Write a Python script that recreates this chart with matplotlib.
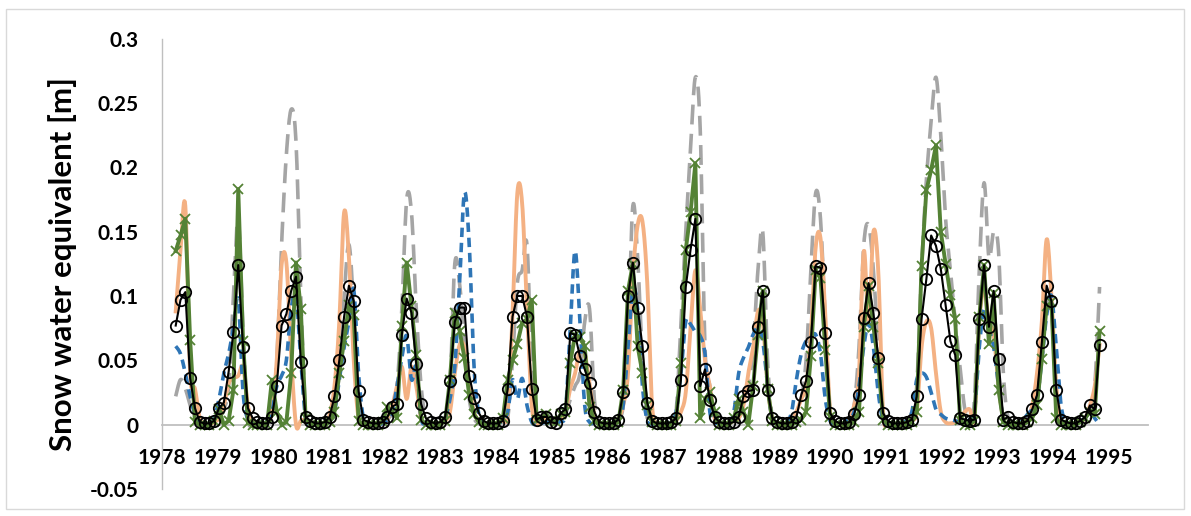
import numpy as np
import matplotlib
matplotlib.use("Agg")
import matplotlib.pyplot as plt
from matplotlib.patches import Rectangle

# ---------------- data ----------------
# sample positions (decimal years on the chart's x axis)
first_sample = 1978.246
sample_step = 0.08642
n_samples = 193

black_obs = [
    0.077, 0.097, 0.103, 0.036, 0.013, 0.002, 0.001, 0.001, 0.003, 0.013,
    0.017, 0.041, 0.072, 0.124, 0.060, 0.013, 0.005, 0.002, 0.001, 0.001,
    0.006, 0.030, 0.077, 0.086, 0.104, 0.115, 0.049, 0.006, 0.003, 0.001,
    0.001, 0.002, 0.006, 0.022, 0.050, 0.084, 0.108, 0.096, 0.026, 0.004,
    0.002, 0.001, 0.001, 0.002, 0.006, 0.014, 0.016, 0.070, 0.098, 0.087,
    0.047, 0.016, 0.005, 0.002, 0.001, 0.002, 0.006, 0.034, 0.080, 0.091,
    0.091, 0.038, 0.021, 0.009, 0.003, 0.001, 0.001, 0.001, 0.003, 0.028,
    0.084, 0.100, 0.100, 0.084, 0.028, 0.004, 0.006, 0.006, 0.002, 0.001,
    0.009, 0.012, 0.071, 0.070, 0.053, 0.043, 0.032, 0.010, 0.002, 0.001,
    0.001, 0.001, 0.004, 0.025, 0.100, 0.126, 0.091, 0.061, 0.017, 0.003,
    0.001, 0.001, 0.001, 0.002, 0.005, 0.035, 0.107, 0.136, 0.160, 0.030,
    0.043, 0.019, 0.006, 0.002, 0.001, 0.001, 0.002, 0.006, 0.022, 0.026,
    0.027, 0.076, 0.104, 0.027, 0.005, 0.002, 0.001, 0.001, 0.002, 0.006,
    0.023, 0.034, 0.064, 0.123, 0.122, 0.071, 0.009, 0.003, 0.001, 0.001,
    0.002, 0.008, 0.023, 0.083, 0.110, 0.087, 0.052, 0.009, 0.003, 0.001,
    0.001, 0.001, 0.002, 0.004, 0.022, 0.082, 0.113, 0.147, 0.139, 0.121,
    0.093, 0.065, 0.054, 0.005, 0.004, 0.003, 0.004, 0.082, 0.124, 0.076,
    0.104, 0.051, 0.004, 0.006, 0.002, 0.001, 0.001, 0.003, 0.012, 0.023,
    0.064, 0.108, 0.096, 0.027, 0.004, 0.002, 0.001, 0.001, 0.003, 0.006,
    0.015, 0.012, 0.062]

green_x = [
    0.135, 0.147, 0.160, 0.066, 0.002, 0.000, 0.000, 0.000, 0.003, 0.012,
    0.000, 0.003, 0.027, 0.183, 0.065, 0.001, 0.000, 0.000, 0.000, 0.000,
    0.035, 0.010, 0.000, 0.002, 0.040, 0.126, 0.090, 0.005, 0.000, 0.000,
    0.000, 0.000, 0.002, 0.010, 0.040, 0.065, 0.093, 0.085, 0.003, 0.000,
    0.000, 0.000, 0.000, 0.002, 0.014, 0.010, 0.005, 0.077, 0.126, 0.092,
    0.054, 0.004, 0.000, 0.000, 0.000, 0.000, 0.003, 0.035, 0.087, 0.073,
    0.052, 0.023, 0.008, 0.002, 0.000, 0.000, 0.000, 0.000, 0.005, 0.035,
    0.050, 0.063, 0.079, 0.082, 0.097, 0.004, 0.005, 0.008, 0.003, 0.002,
    0.008, 0.010, 0.048, 0.070, 0.068, 0.061, 0.014, 0.003, 0.000, 0.000,
    0.000, 0.000, 0.002, 0.027, 0.104, 0.125, 0.061, 0.040, 0.015, 0.002,
    0.000, 0.000, 0.000, 0.000, 0.003, 0.048, 0.136, 0.165, 0.203, 0.005,
    0.020, 0.025, 0.010, 0.000, 0.000, 0.000, 0.005, 0.020, 0.010, 0.000,
    0.030, 0.070, 0.104, 0.028, 0.003, 0.000, 0.000, 0.000, 0.000, 0.002,
    0.004, 0.010, 0.053, 0.120, 0.114, 0.058, 0.006, 0.000, 0.000, 0.000,
    0.000, 0.002, 0.010, 0.076, 0.108, 0.076, 0.048, 0.004, 0.000, 0.000,
    0.000, 0.000, 0.000, 0.002, 0.010, 0.123, 0.182, 0.198, 0.217, 0.150,
    0.125, 0.101, 0.082, 0.004, 0.000, 0.000, 0.003, 0.084, 0.124, 0.063,
    0.102, 0.027, 0.002, 0.000, 0.000, 0.000, 0.000, 0.002, 0.005, 0.015,
    0.051, 0.092, 0.095, 0.005, 0.000, 0.000, 0.000, 0.000, 0.002, 0.005,
    0.010, 0.008, 0.073]

orange_sim = [
    0.088, 0.135, 0.170, 0.040, 0.028, 0.005, 0.001, 0.000, 0.002, 0.005,
    0.015, 0.032, 0.036, 0.038, 0.045, 0.015, 0.002, 0.000, 0.000, 0.002,
    0.010, 0.050, 0.124, 0.126, 0.053, 0.000, 0.003, 0.004, 0.002, 0.001,
    0.001, 0.002, 0.008, 0.030, 0.080, 0.165, 0.130, 0.050, 0.005, 0.001,
    0.000, 0.000, 0.001, 0.002, 0.005, 0.015, 0.030, 0.045, 0.020, 0.045,
    0.030, 0.005, 0.001, 0.000, 0.000, 0.001, 0.003, 0.010, 0.040, 0.062,
    0.060, 0.030, 0.010, 0.003, 0.001, 0.000, 0.000, 0.001, 0.003, 0.010,
    0.085, 0.180, 0.172, 0.090, 0.015, 0.001, 0.003, 0.004, 0.002, 0.002,
    0.005, 0.010, 0.028, 0.040, 0.058, 0.055, 0.032, 0.008, 0.001, 0.000,
    0.000, 0.001, 0.005, 0.015, 0.040, 0.115, 0.155, 0.158, 0.110, 0.015,
    0.001, 0.000, 0.000, 0.001, 0.003, 0.010, 0.025, 0.075, 0.120, 0.090,
    0.050, 0.030, 0.005, 0.001, 0.000, 0.001, 0.003, 0.005, 0.015, 0.040,
    0.060, 0.088, 0.080, 0.030, 0.005, 0.001, 0.000, 0.001, 0.003, 0.010,
    0.020, 0.030, 0.070, 0.138, 0.145, 0.085, 0.010, 0.001, 0.000, 0.002,
    0.005, 0.015, 0.040, 0.135, 0.080, 0.150, 0.120, 0.010, 0.001, 0.000,
    0.000, 0.001, 0.002, 0.004, 0.010, 0.060, 0.080, 0.075, 0.040, 0.010,
    0.002, 0.001, 0.002, 0.005, 0.010, 0.012, 0.005, 0.080, 0.105, 0.080,
    0.070, 0.030, 0.005, 0.001, 0.000, 0.001, 0.002, 0.005, 0.015, 0.040,
    0.080, 0.144, 0.100, 0.030, 0.005, 0.001, 0.000, 0.001, 0.003, 0.005,
    0.015, 0.030, 0.062]

blue_sim = [
    0.061, 0.055, 0.040, 0.022, 0.008, 0.002, 0.001, 0.001, 0.005, 0.020,
    0.040, 0.055, 0.075, 0.097, 0.025, 0.004, 0.001, 0.000, 0.001, 0.003,
    0.010, 0.030, 0.038, 0.050, 0.090, 0.100, 0.050, 0.005, 0.001, 0.000,
    0.000, 0.001, 0.003, 0.010, 0.035, 0.060, 0.080, 0.105, 0.040, 0.005,
    0.001, 0.000, 0.000, 0.001, 0.004, 0.010, 0.030, 0.052, 0.069, 0.035,
    0.045, 0.005, 0.001, 0.000, 0.000, 0.001, 0.005, 0.020, 0.045, 0.110,
    0.180, 0.140, 0.045, 0.008, 0.001, 0.000, 0.000, 0.001, 0.003, 0.010,
    0.035, 0.020, 0.036, 0.015, 0.002, 0.000, 0.001, 0.002, 0.001, 0.001,
    0.003, 0.010, 0.075, 0.135, 0.080, 0.015, 0.002, 0.001, 0.000, 0.000,
    0.000, 0.001, 0.004, 0.015, 0.060, 0.105, 0.090, 0.030, 0.003, 0.001,
    0.000, 0.000, 0.001, 0.003, 0.010, 0.040, 0.080, 0.078, 0.072, 0.069,
    0.055, 0.010, 0.002, 0.001, 0.000, 0.001, 0.010, 0.040, 0.052, 0.060,
    0.070, 0.075, 0.065, 0.030, 0.004, 0.001, 0.000, 0.002, 0.010, 0.035,
    0.055, 0.065, 0.068, 0.070, 0.055, 0.020, 0.003, 0.001, 0.000, 0.002,
    0.005, 0.010, 0.030, 0.061, 0.079, 0.060, 0.025, 0.003, 0.001, 0.000,
    0.000, 0.001, 0.004, 0.010, 0.035, 0.040, 0.037, 0.025, 0.012, 0.008,
    0.005, 0.004, 0.003, 0.002, 0.002, 0.004, 0.010, 0.060, 0.090, 0.075,
    0.060, 0.030, 0.004, 0.001, 0.000, 0.001, 0.003, 0.008, 0.012, 0.020,
    0.050, 0.085, 0.100, 0.060, 0.015, 0.002, 0.000, 0.001, 0.003, 0.005,
    0.010, 0.005, 0.000]

gray_sim = [
    0.022, 0.035, 0.028, 0.015, 0.003, 0.001, 0.000, 0.000, 0.001, 0.005,
    0.012, 0.030, 0.100, 0.160, 0.070, 0.005, 0.001, 0.000, 0.000, 0.002,
    0.010, 0.050, 0.140, 0.210, 0.245, 0.220, 0.100, 0.010, 0.001, 0.000,
    0.000, 0.001, 0.004, 0.015, 0.040, 0.100, 0.140, 0.090, 0.020, 0.003,
    0.000, 0.000, 0.000, 0.001, 0.004, 0.010, 0.030, 0.090, 0.175, 0.165,
    0.090, 0.030, 0.005, 0.000, 0.000, 0.001, 0.004, 0.030, 0.125, 0.110,
    0.060, 0.020, 0.005, 0.001, 0.000, 0.000, 0.000, 0.001, 0.002, 0.005,
    0.050, 0.110, 0.120, 0.140, 0.040, 0.005, 0.005, 0.010, 0.005, 0.002,
    0.004, 0.008, 0.020, 0.030, 0.040, 0.080, 0.090, 0.020, 0.003, 0.000,
    0.000, 0.001, 0.004, 0.015, 0.070, 0.170, 0.130, 0.050, 0.005, 0.001,
    0.000, 0.000, 0.000, 0.001, 0.010, 0.080, 0.150, 0.215, 0.270, 0.230,
    0.060, 0.030, 0.005, 0.001, 0.000, 0.001, 0.004, 0.010, 0.020, 0.030,
    0.060, 0.120, 0.150, 0.050, 0.005, 0.001, 0.000, 0.001, 0.003, 0.010,
    0.020, 0.050, 0.120, 0.180, 0.160, 0.080, 0.010, 0.001, 0.000, 0.001,
    0.005, 0.015, 0.060, 0.140, 0.155, 0.120, 0.060, 0.010, 0.001, 0.000,
    0.000, 0.001, 0.003, 0.010, 0.030, 0.120, 0.190, 0.235, 0.270, 0.225,
    0.160, 0.120, 0.080, 0.045, 0.012, 0.003, 0.020, 0.120, 0.188, 0.130,
    0.150, 0.135, 0.040, 0.005, 0.001, 0.000, 0.001, 0.003, 0.010, 0.020,
    0.050, 0.095, 0.090, 0.020, 0.003, 0.001, 0.000, 0.001, 0.003, 0.005,
    0.010, 0.030, 0.107]

year_ticks = list(range(1978, 1996))
y_ticks = [-0.05, 0, 0.05, 0.1, 0.15, 0.2, 0.25, 0.3]
y_tick_labels = ["-0.05", "0", "0.05", "0.1", "0.15", "0.2", "0.25", "0.3"]
y_label = "Snow water equivalent [m]"


# ---------------- helpers ----------------
def smooth_curve(x, y, n=10):
    """Excel-like smoothed line (Catmull-Rom / Bezier through the points)."""
    x = np.asarray(x, float)
    y = np.asarray(y, float)
    px = np.concatenate([[x[0]], x, [x[-1]]])
    py = np.concatenate([[y[0]], y, [y[-1]]])
    t = np.linspace(0, 1, n, endpoint=False)
    xs, ys = [], []
    for i in range(len(x) - 1):
        x0, x1, x2, x3 = px[i], px[i + 1], px[i + 2], px[i + 3]
        y0, y1, y2, y3 = py[i], py[i + 1], py[i + 2], py[i + 3]
        cx1, cy1 = x1 + (x2 - x0) / 6, y1 + (y2 - y0) / 6
        cx2, cy2 = x2 - (x3 - x1) / 6, y2 - (y3 - y1) / 6
        a = (1 - t) ** 3
        b = 3 * (1 - t) ** 2 * t
        c = 3 * (1 - t) * t ** 2
        d = t ** 3
        xs.append(a * x1 + b * cx1 + c * cx2 + d * x2)
        ys.append(a * y1 + b * cy1 + c * cy2 + d * y2)
    xs.append([x[-1]])
    ys.append([y[-1]])
    return np.concatenate(xs), np.concatenate(ys)


# ---------------- figure ----------------
plt.rcParams['font.family'] = ['Lato', 'DejaVu Sans']

W, H = 1191, 516
fig = plt.figure(figsize=(W / 100, H / 100), dpi=100)
ax = fig.add_axes([162 / W, 1 - 489 / H, (1148 - 162) / W, (489 - 38.6) / H])

t = first_sample + sample_step * np.arange(n_samples)

xs, ys = smooth_curve(t, gray_sim)
ax.plot(xs, ys, color='#A5A5A5', lw=2.6, dashes=(5.5, 2.6), zorder=2)
xs, ys = smooth_curve(t, orange_sim)
ax.plot(xs, ys, color='#F4B183', lw=2.8, zorder=3)
xs, ys = smooth_curve(t, blue_sim)
ax.plot(xs, ys, color='#2E75B6', lw=2.6, dashes=(2.6, 1.6), zorder=4)
ax.plot(t, green_x, color='#548235', lw=2.8, marker='x', ms=7.5, mew=1.3,
        mec='#548235', zorder=5)
ax.plot(t, black_obs, color='black', lw=1.5, marker='o', ms=8.2, mew=1.3,
        mfc='none', mec='black', zorder=6)

ax.set_xlim(1978, 1978 + (1148 - 162) / 55.68)
ax.set_ylim(-0.05, 0.3)
ax.set_xticks(year_ticks)
ax.set_xticklabels([str(y) for y in year_ticks])
ax.set_yticks(y_ticks)
ax.set_yticklabels(y_tick_labels)

for s in ['top', 'right']:
    ax.spines[s].set_visible(False)
ax.spines['bottom'].set_position(('data', 0))
ax.spines['bottom'].set_color('#BFBFBF')
ax.spines['bottom'].set_linewidth(1.3)
ax.spines['left'].set_color('#BFBFBF')
ax.spines['left'].set_linewidth(1.0)
ax.tick_params(axis='both', length=0, labelsize=15)
ax.tick_params(axis='x', pad=17)
ax.tick_params(axis='y', pad=17)
for lab in ax.get_xticklabels() + ax.get_yticklabels():
    lab.set_fontweight('bold')
ax.set_facecolor('none')

fig.text(63 / W, 1 - 264 / H, y_label, rotation=90, ha='center', va='center',
         fontsize=22.5, fontweight='bold')

fig.patches.append(Rectangle((6 / W, 1 - 509 / H), (1184 - 6) / W, (509 - 9) / H,
                             transform=fig.transFigure, fill=False,
                             edgecolor='#D9D9D9', lw=1.0))

fig.savefig('out.png', dpi=100)
